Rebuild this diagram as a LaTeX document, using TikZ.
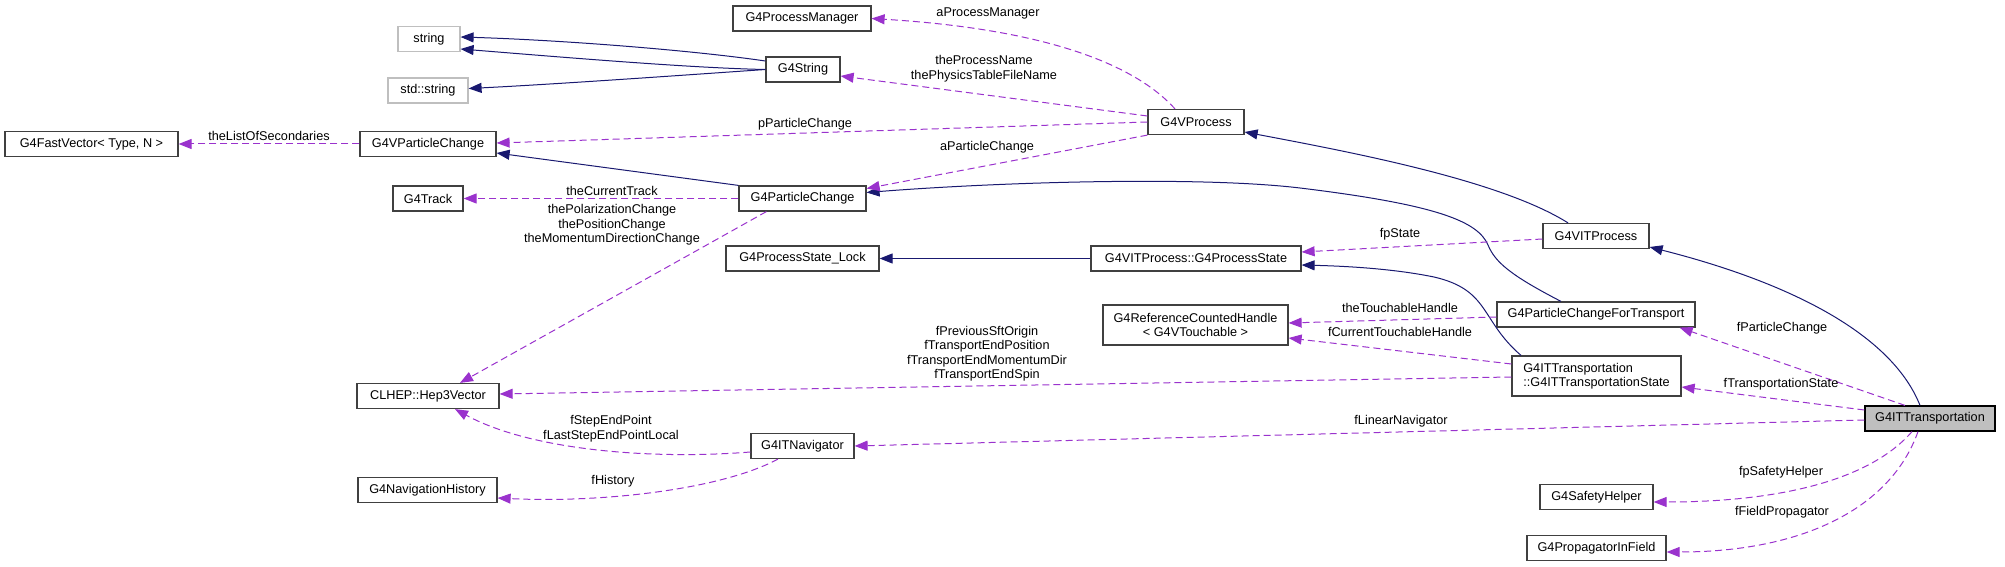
\documentclass[tikz,border=0pt]{standalone}
\usepackage{fontspec}
\setmainfont{Liberation Sans}
\usetikzlibrary{arrows.meta}
\definecolor{inhcol}{HTML}{191970}
\definecolor{usecol}{HTML}{9A32CD}
\definecolor{boxline}{HTML}{404040}
\newcommand{\dfont}{\fontsize{12.7}{14.5}\selectfont}
\begin{document}
\begin{tikzpicture}[x=1pt,y=-1pt,
  box/.style={draw=boxline, line width=1.2pt, fill=white, inner sep=0pt, minimum height=25pt, font=\dfont, text=black},
  gbox/.style={box, draw=black!25},
  tallbox/.style={box, minimum height=40pt},
  lbl/.style={inner sep=0pt, font=\dfont, align=center, text=black},
  inh/.style={draw=inhcol, line width=1pt, -{Triangle[length=13pt,width=10pt]}},
  use/.style={draw=usecol, line width=1pt, dash pattern=on 7pt off 4pt, -{Triangle[length=13pt,width=10pt]}}]
\useasboundingbox (0,0) rectangle (2005,567);

% nodes
\node[gbox, minimum width=62pt] (str) at (429,39) {string};
\node[gbox, minimum width=80pt] (stdstr) at (428,90.5) {std::string};
\node[box, minimum width=74pt] (gstr) at (803,69.5) {G4String};
\node[box, minimum width=138pt] (pm) at (802,18.5) {G4ProcessManager};
\node[box, minimum width=96pt] (vproc) at (1196,122) {G4VProcess};
\node[box, minimum width=173pt] (fastvec) at (91.5,144) {G4FastVector< Type, N >};
\node[box, minimum width=136pt] (vpc) at (428,144) {G4VParticleChange};
\node[box, minimum width=70pt] (track) at (428,198.5) {G4Track};
\node[box, minimum width=127pt] (pc) at (802.5,198.5) {G4ParticleChange};
\node[box, minimum width=153pt] (lock) at (802.5,258.5) {G4ProcessState\_Lock};
\node[box, minimum width=210pt] (pstate) at (1196,258.5) {G4VITProcess::G4ProcessState};
\node[box, minimum width=106pt] (vitproc) at (1596,236) {G4VITProcess};
\node[tallbox, minimum width=185pt, align=center] (rch) at (1195.5,325) {G4ReferenceCountedHandle\\< G4VTouchable >};
\node[box, minimum width=198pt] (pcft) at (1596,314.5) {G4ParticleChangeForTransport};
\node[tallbox, minimum width=169pt, align=left] (itstate) at (1596.5,376) {G4ITTransportation\\::G4ITTransportationState};
\node[box, minimum width=130pt, fill=black!25, draw=black] (itt) at (1930,418.5) {G4ITTransportation};
\node[box, minimum width=142pt] (hep) at (428,396) {CLHEP::Hep3Vector};
\node[box, minimum width=103pt] (nav) at (802.5,446) {G4ITNavigator};
\node[box, minimum width=139pt] (navhist) at (427.5,490) {G4NavigationHistory};
\node[box, minimum width=113pt] (safety) at (1596.5,497) {G4SafetyHelper};
\node[box, minimum width=139pt] (prop) at (1596.5,548) {G4PropagatorInField};

% inheritance edges
\draw[inh] ([yshift=8.5pt]gstr.west) .. controls (690,50) and (560,40) .. ([yshift=2pt]str.east);
\draw[inh] (gstr.west) .. controls (690,68) and (560,57) .. ([yshift=-10pt]str.east);
\draw[inh] (gstr.west) .. controls (700,74) and (560,84) .. ([yshift=2pt]stdstr.east);
\draw[inh] (pc.north west) -- ([yshift=-9pt]vpc.east);
\draw[inh] ([xshift=-35pt]pcft.north) .. controls (1510,275) and (1495,262) .. (1488,245)
  .. controls (1478,222) and (1440,205) .. (1300,188)
  .. controls (1200,176) and (1000,182) .. ([yshift=6pt]pc.east);
\draw[inh] ([xshift=-28pt]vitproc.north) .. controls (1500,180) and (1350,152) .. ([yshift=-10pt]vproc.east);
\draw[inh] ([xshift=-10pt]itt.north) .. controls (1890,330) and (1780,280) .. ([yshift=-11pt]vitproc.east);
\draw[inh] (pstate.west) -- (lock.east);
\draw[inh] ([xshift=-75.5pt]itstate.north) .. controls (1480,320) and (1490,290) .. (1434,277)
  .. controls (1390,268) and (1340,266) .. ([yshift=-6.5pt]pstate.east);

% usage edges
\draw[use] (vproc.west) -- ([yshift=1pt]vpc.east);
\draw[use] (vpc.west) -- (fastvec.east);
\draw[use] ([xshift=-21pt]vproc.north) .. controls (1140,70) and (1060,30) .. (pm.east);
\draw[use] ([yshift=6pt]vproc.west) -- ([yshift=-6.5pt]gstr.east);
\draw[use] (vproc.south west) -- ([yshift=10pt]pc.east);
\draw[use] (pc.west) -- (track.east);
\draw[use] ([xshift=28pt]pc.south west) -- ([xshift=32pt]hep.north);
\draw[use] ([yshift=-3pt]vitproc.west) -- ([yshift=6.5pt]pstate.east);
\draw[use] ([yshift=-2.5pt]pcft.west) -- ([yshift=2pt]rch.east);
\draw[use] ([yshift=12pt]itstate.west) -- ([yshift=-13pt]rch.east);
\draw[use] ([yshift=-1pt]itstate.west) -- ([yshift=2pt]hep.east);
\draw[use] ([yshift=-6pt]nav.west) .. controls (650,460) and (530,450) .. ([xshift=27pt]hep.south);
\draw[use] ([xshift=-24.5pt]nav.south) .. controls (720,490) and (600,503) .. ([yshift=-8pt]navhist.east);
\draw[use] ([yshift=-1.5pt]itt.west) -- (nav.east);
\draw[use] ([yshift=8.5pt]itt.west) -- ([yshift=-11pt]itstate.east);
\draw[use] ([xshift=-25pt]itt.north) -- ([xshift=-16pt]pcft.south east);
\draw[use] ([xshift=-18pt]itt.south) .. controls (1870,480) and (1780,502) .. ([yshift=-5pt]safety.east);
\draw[use] ([xshift=-12pt]itt.south) .. controls (1890,510) and (1800,552) .. ([yshift=-4pt]prop.east);

% labels
\node[lbl] (l1) at (269,136) {theListOfSecondaries};
\node[lbl] (l2) at (805,124) {pParticleChange};
\node[lbl] (l3) at (988,13) {aProcessManager};
\node[lbl] (l4) at (984,68.5) {theProcessName\\thePhysicsTableFileName};
\node[lbl] (l5) at (987,147) {aParticleChange};
\node[lbl] (l6) at (612,191) {theCurrentTrack};
\node[lbl] (l7) at (612,225) {thePolarizationChange\\thePositionChange\\theMomentumDirectionChange};
\node[lbl] (l8) at (1400,234) {fpState};
\node[lbl] (l9) at (1400,308) {theTouchableHandle};
\node[lbl] (l10) at (1400,332) {fCurrentTouchableHandle};
\node[lbl] (l11) at (987,353.5) {fPreviousSftOrigin\\fTransportEndPosition\\fTransportEndMomentumDir\\fTransportEndSpin};
\node[lbl] (l12) at (611,428.5) {fStepEndPoint\\fLastStepEndPointLocal};
\node[lbl] (l13) at (613,481) {fHistory};
\node[lbl] (l14) at (1401,421) {fLinearNavigator};
\node[lbl] (l15) at (1781,384) {fTransportationState};
\node[lbl] (l16) at (1782,328) {fParticleChange};
\node[lbl] (l17) at (1781,472) {fpSafetyHelper};
\node[lbl] (l18) at (1782,512) {fFieldPropagator};
\end{tikzpicture}
\end{document}
